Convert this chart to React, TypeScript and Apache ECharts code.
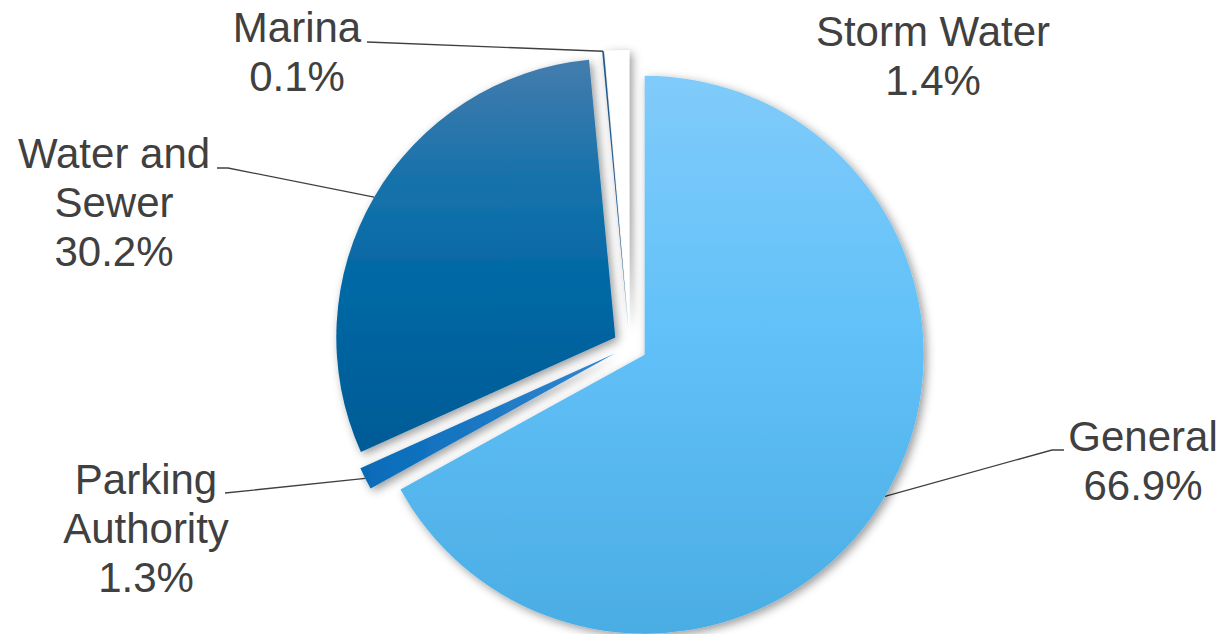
import React, { useEffect, useRef } from 'react';
import * as echarts from 'echarts';

// ---- data ----
const categories = ['General', 'Parking Authority', 'Water and Sewer', 'Marina', 'Storm Water'];
const labelNames = ['General', 'Parking\nAuthority', 'Water and\nSewer', 'Marina', 'Storm Water'];
const shares = [66.9, 1.3, 30.2, 0.1, 1.4];

// ---- layout ----
const CENTER = [630, 346];
const RADIUS = 279;
const EXPLODE = 17;
const labelCenters = [
  [1143, 461],
  [146, 528],
  [114, 202],
  [297, 52],
  [933, 56],
];
const leaderStarts: number[][][] = [
  [[1064, 450], [1052, 450]],
  [[225, 493]],
  [[217, 168], [228, 168]],
  [[367, 42]],
  [],
];

const grad = (x2: number, y2: number, stops: [number, string][]) =>
  new echarts.graphic.LinearGradient(0, 0, x2, y2, stops.map(([offset, color]) => ({ offset, color })));

const fills = [
  grad(0, 1, [[0, '#80cbfa'], [0.45, '#62c1f8'], [1, '#4aade3']]),
  grad(1, 0, [[0, '#056bb9'], [1, '#3586cf']]),
  grad(0, 1, [[0, '#447cad'], [0.3, '#1872ab'], [0.55, '#0369a5'], [1, '#015b95']]),
  '#24609a',
  '#ffffff',
];

export default function App() {
  const ref = useRef<HTMLDivElement>(null);
  useEffect(() => {
    if (!ref.current) return;
    const chart = echarts.init(ref.current, undefined, { renderer: 'svg' });
    const total = shares.reduce((a, b) => a + b, 0);
    let cum = 0;
    const series: any[] = shares.map((v, i) => {
      const a0 = (cum / total) * Math.PI * 2;
      cum += v;
      const a1 = (cum / total) * Math.PI * 2;
      const mid = (a0 + a1) / 2;
      const dx = Math.sin(mid);
      const dy = -Math.cos(mid);
      const cx = CENTER[0] + EXPLODE * dx;
      const cy = CENTER[1] + EXPLODE * dy;
      const anchor = [cx + RADIUS * dx, cy + RADIUS * dy];
      const hasLine = leaderStarts[i].length > 0;
      return {
        type: 'pie',
        center: [cx, cy],
        radius: RADIUS,
        startAngle: 90,
        clockwise: true,
        silent: true,
        avoidLabelOverlap: false,
        emphasis: { disabled: true },
        label: { show: false },
        labelLine: { show: false },
        data: shares.map((val, j) =>
          j === i
            ? {
                value: val,
                name: categories[j],
                itemStyle: {
                  color: fills[j],
                  borderWidth: 0,
                  shadowBlur: 10,
                  shadowOffsetX: 3,
                  shadowOffsetY: 3,
                  shadowColor: 'rgba(0,0,0,0.4)',
                },
                label: {
                  show: true,
                  position: 'outside',
                  formatter: `${labelNames[j]}\n${val.toFixed(1)}%`,
                  color: '#404040',
                  fontSize: 42,
                  lineHeight: 49,
                  fontFamily: 'Liberation Sans, Arial, sans-serif',
                  align: 'center',
                },
                labelLine: {
                  show: hasLine,
                  smooth: false,
                  lineStyle: { color: '#404040', width: 1.3 },
                },
              }
            : {
                value: val,
                name: categories[j],
                itemStyle: { color: 'rgba(0,0,0,0)', borderWidth: 0 },
                label: { show: false },
                labelLine: { show: false },
              }
        ),
        labelLayout: (p: any) => {
          if (p.dataIndex !== i) return {};
          const out: any = {
            x: labelCenters[i][0],
            y: labelCenters[i][1],
            align: 'center',
            verticalAlign: 'middle',
          };
          if (hasLine) out.labelLinePoints = [...leaderStarts[i], anchor];
          return out;
        },
      };
    });
    chart.setOption({ animation: false, backgroundColor: '#ffffff', series });
    return () => chart.dispose();
  }, []);
  return (
    <div
      ref={ref}
      style={{ position: 'absolute', left: 0, top: 0, width: 1225, height: 634 }}
    />
  );
}
